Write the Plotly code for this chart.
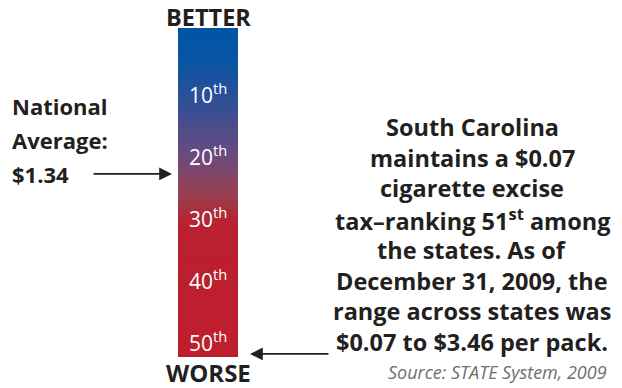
import plotly.graph_objects as go

# ---- data ----
ranks = list(range(0, 53))                 # rank positions along the scale
rank_labels = [10, 20, 30, 40, 50]          # labelled ranks
rank_suffix = ["th", "th", "th", "th", "th"]
national_avg_rank = 23                      # where the national-average arrow points
state_rank = 52                             # where the state arrow points (51st, bottom)
top_label = "BETTER"
bottom_label = "WORSE"
left_lines = ["National", "Average:", "$1.34"]
right_lines = [
    "South Carolina",
    "maintains a $0.07",
    "cigarette excise",
    "tax–ranking 51<sup>st</sup> among",
    "the states. As of",
    "December 31, 2009, the",
    "range across states was",
    "$0.07 to $3.46 per pack.",
]
source = "Source: STATE System, 2009"

OFF = 8                      # page body margin
W, H = 622 - OFF, 388 - OFF
FONT = "Open Sans"
DARK = "#231f20"


def px(x):
    return (x - OFF) / W


def py(y):
    return 1 - (y - OFF) / H


colorscale = [
    [0.0, "#0054A6"], [0.08, "#0655A5"], [0.2, "#2A4F99"],
    [0.38, "#6A4A80"], [0.5, "#974050"], [0.6, "#BA202F"], [1.0, "#BF1E2D"],
]

fig = go.Figure(go.Heatmap(
    z=[[r] for r in ranks], y=ranks, x=[0],
    colorscale=colorscale, showscale=False, zsmooth="best", hoverinfo="skip",
))

bar_x0, bar_x1 = px(178), px(238)
bar_top, bar_bot = 28, 357
fig.update_layout(
    width=W, height=H, margin=dict(l=0, r=0, t=0, b=0),
    paper_bgcolor="white", plot_bgcolor="white", showlegend=False,
    xaxis=dict(domain=[bar_x0, bar_x1], visible=False, range=[-0.5, 0.5]),
    yaxis=dict(domain=[py(bar_bot), py(bar_top)], visible=False,
               range=[ranks[-1] + 0.5, ranks[0] - 0.5]),
)

ann = []
cx = (bar_x0 + bar_x1) / 2
for r, s in zip(rank_labels, rank_suffix):
    ann.append(dict(x=cx, xref="paper", y=r, yref="y", text=f"{r}<sup>{s}</sup>",
                    showarrow=False, font=dict(family=FONT, size=21, color="white"),
                    xanchor="center", yanchor="middle"))

ann.append(dict(x=cx, xref="paper", y=py(17), yref="paper", text=f"<b>{top_label}</b>",
                showarrow=False, font=dict(family=FONT, size=23.5, color=DARK),
                xanchor="center", yanchor="middle", borderpad=0))
ann.append(dict(x=cx, xref="paper", y=py(372), yref="paper", text=f"<b>{bottom_label}</b>",
                showarrow=False, font=dict(family=FONT, size=24, color=DARK),
                xanchor="center", yanchor="middle", borderpad=0))

for i, line in enumerate(left_lines):
    ann.append(dict(x=px(10), xref="paper", y=py(106 + 34 * i), yref="paper",
                    text=f"<b>{line}</b>", showarrow=False,
                    font=dict(family=FONT, size=22, color=DARK),
                    xanchor="left", yanchor="middle"))

for i, line in enumerate(right_lines):
    ann.append(dict(x=px(472), xref="paper", y=py(127 + 30.7 * i), yref="paper",
                    text=f"<b>{line}</b>", showarrow=False,
                    font=dict(family=FONT, size=23.5, color=DARK),
                    xanchor="center", yanchor="middle"))

ann.append(dict(x=px(608), xref="paper", y=py(372), yref="paper",
                text=f"<i>{source}</i>", showarrow=False,
                font=dict(family=FONT, size=18, color="#6d6e71"),
                xanchor="right", yanchor="middle", borderpad=0))

# arrows
ann.append(dict(x=px(172), xref="paper", y=national_avg_rank, yref="y", text="",
                showarrow=True, ax=-80, ay=0, arrowhead=2, arrowsize=1.6,
                arrowwidth=1.6, arrowcolor=DARK))
ann.append(dict(x=px(250), xref="paper", y=state_rank, yref="y", text="",
                showarrow=True, ax=80, ay=0, arrowhead=2, arrowsize=1.6,
                arrowwidth=1.6, arrowcolor=DARK))

fig.update_layout(annotations=ann)
fig.write_html("out.html")
